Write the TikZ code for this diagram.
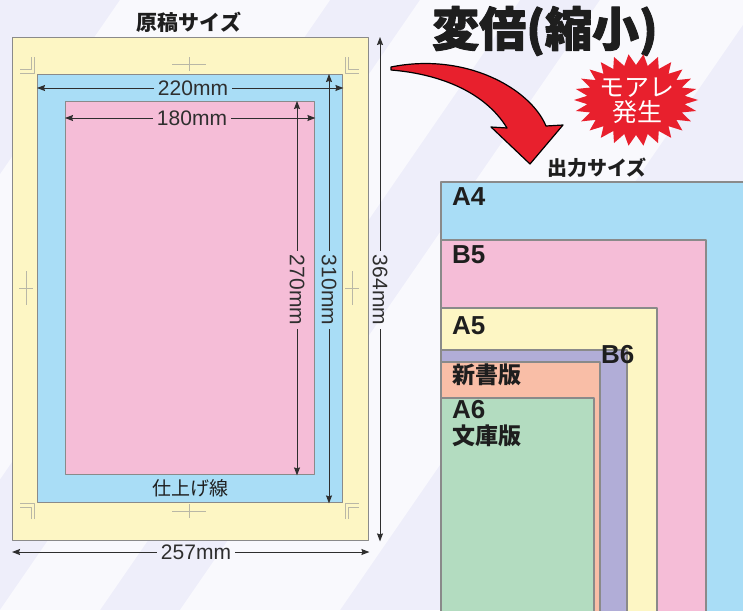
\documentclass[tikz,border=0pt]{standalone}
\usepackage{fontspec}
\setmainfont{Liberation Sans}
\newfontfamily\jp{Noto Sans CJK JP}
\newfontfamily\jpheavy{Noto Sans CJK JP}[BoldFeatures={FakeBold=2}]
\usetikzlibrary{arrows.meta}
\definecolor{bglav}{HTML}{EEEEFA}
\definecolor{paperY}{HTML}{FDF6C4}
\definecolor{paperB}{HTML}{A9DDF6}
\definecolor{paperP}{HTML}{F5BDD7}
\definecolor{paperV}{HTML}{B1ADD7}
\definecolor{paperS}{HTML}{F9BEA7}
\definecolor{paperG}{HTML}{B3DCC0}
\definecolor{edgegray}{HTML}{8A8A8A}
\definecolor{cropgray}{HTML}{B9B7A6}
\definecolor{dimgray}{HTML}{2E2E2E}
\definecolor{ink}{HTML}{1E1E1E}
\definecolor{mred}{HTML}{E8202D}
\begin{document}
\begin{tikzpicture}[x=1pt,y=-1pt, line join=round, >={Stealth[length=8pt,width=6pt,inset=1pt]},
	sheet/.style={draw=edgegray, line width=1.4pt, inner sep=0pt, anchor=north west},
	dim/.style={->, line width=0.9pt, draw=dimgray},
	dimlbl/.style={font=\fontsize{21}{21}\selectfont, text=dimgray, inner sep=4pt},
	crop/.style={draw=cropgray, line width=0.7pt},
	sizelbl/.style={anchor=west, inner sep=0pt, text=ink, font=\fontsize{26}{26}\selectfont\bfseries},
	jplbl/.style={text=ink, inner sep=0pt, font={\jp\bfseries\fontsize{#1}{#1}\selectfont}}]
	\useasboundingbox (0,0) rectangle (743,610);
	\clip (0,0) rectangle (743,610);
	% background streaks
	\fill[bglav] (0,0) rectangle (743,610);
	\foreach \a/\b in {120/330, 420/520, 600/760}{
		\fill[white, opacity=.7] (\a,0) -- (\b,0) -- (\b-420,610) -- (\a-420,610) -- cycle;}
	% original sheet
	\node[sheet, fill=paperY, minimum width=356pt, minimum height=503pt] (orig) at (12,37) {};
	\node[sheet, fill=paperB, minimum width=305pt, minimum height=428pt] (trim) at (37,74) {};
	\node[sheet, fill=paperP, minimum width=249pt, minimum height=373pt] (safe) at (65,101) {};
	\node[jplbl=21] (origttl) at (189,22) {原稿サイズ};
	\node[jplbl=19, font={\jp\fontsize{19}{19}\selectfont}] (trimlbl) at (190,488) {仕上げ線};
	% crop marks
	\foreach \cx/\cy/\sx/\sy in {37/74/1/1, 342/74/-1/1, 37/502/1/-1, 342/502/-1/-1}{
		\draw[crop] ({\cx-3*\sx},{\cy-17*\sy}) -- ({\cx-3*\sx},{\cy-1*\sy}) -- ({\cx-17*\sx},{\cy-1*\sy});
		\draw[crop] ({\cx-6*\sx},{\cy-17*\sy}) -- ({\cx-6*\sx},{\cy-5*\sy}) -- ({\cx-17*\sx},{\cy-5*\sy});}
	\foreach \mx/\my in {189/64, 189/511}{
		\draw[crop] (\mx-17,\my) -- (\mx+17,\my) (\mx,\my-7) -- (\mx,\my+7);}
	\foreach \mx/\my in {26/288, 352/288}{
		\draw[crop] (\mx,\my-17) -- (\mx,\my+17) (\mx-7,\my) -- (\mx+7,\my);}
	% dimensions
	\node[dimlbl] (w220) at (193,88) {220mm};
	\draw[dim] (w220) -- (w220 -| trim.west);
	\draw[dim] (w220) -- (w220 -| trim.east);
	\node[dimlbl] (w180) at (192,118) {180mm};
	\draw[dim] (w180) -- (w180 -| safe.west);
	\draw[dim] (w180) -- (w180 -| safe.east);
	\node[dimlbl] (w257) at (196,552) {257mm};
	\draw[dim] (w257) -- (w257 -| orig.west);
	\draw[dim] (w257) -- (w257 -| orig.east);
	\node[dimlbl, rotate=-90] (h270) at (297,290) {270mm};
	\draw[dim] (h270) -- (h270 |- safe.north);
	\draw[dim] (h270) -- (h270 |- safe.south);
	\node[dimlbl, rotate=-90] (h310) at (329,290) {310mm};
	\draw[dim] (h310) -- (h310 |- trim.north);
	\draw[dim] (h310) -- (h310 |- trim.south);
	\node[dimlbl, rotate=-90] (h364) at (380,290) {364mm};
	\draw[dim] (h364) -- (h364 |- orig.north);
	\draw[dim] (h364) -- (h364 |- orig.south);
	% output sizes
	\draw[sheet, fill=paperB] (441,182) rectangle (760,620);
	\draw[sheet, fill=paperP] (441,240) rectangle (706,620);
	\draw[sheet, fill=paperY] (441,308) rectangle (657,620);
	\draw[sheet, fill=paperV] (441,350) rectangle (627,620);
	\draw[sheet, fill=paperS] (441,362) rectangle (600,620);
	\draw[sheet, fill=paperG] (441,398) rectangle (594,620);
	\node[sizelbl] (a4) at (452,197) {A4};
	\node[sizelbl] (b5) at (452,255) {B5};
	\node[sizelbl] (a5) at (452,326) {A5};
	\node[sizelbl] (b6) at (601,355) {B6};
	\node[jplbl=23, anchor=west] (shinsho) at (452,375) {新書版};
	\node[sizelbl] (a6) at (452,410) {A6};
	\node[jplbl=23, anchor=west] (bunko) at (452,436) {文庫版};
	\node[jplbl=20] (outttl) at (597,168) {出力サイズ};
	% title, arrow, burst
	\node[jplbl=47, font={\jpheavy\bfseries\fontsize{47}{47}\selectfont}] (scale) at (545,31) {変倍(縮小)};
	\draw[fill=mred, line width=1.2pt] (391,67) .. controls (465,52) and (530,88) .. (546,126)
		-- (563,125) -- (530,164) -- (491,127) -- (507,128) .. controls (485,92) and (440,74) .. (391,70) -- cycle;
	\fill[mred] (698,100) \foreach \i [evaluate=\i as \rx using {62-13*mod(\i,2)}, evaluate=\i as \ry using {46-11*mod(\i,2)}] in {1,...,51}{
		-- ({636+\rx*cos(\i*90/13)},{100+\ry*sin(\i*90/13)})} -- cycle;
	\node[jplbl=25, text=white, align=center, font={\jp\fontsize{25}{25}\selectfont}] (moire) at (637,101) {モアレ\\発生};
\end{tikzpicture}
\end{document}
